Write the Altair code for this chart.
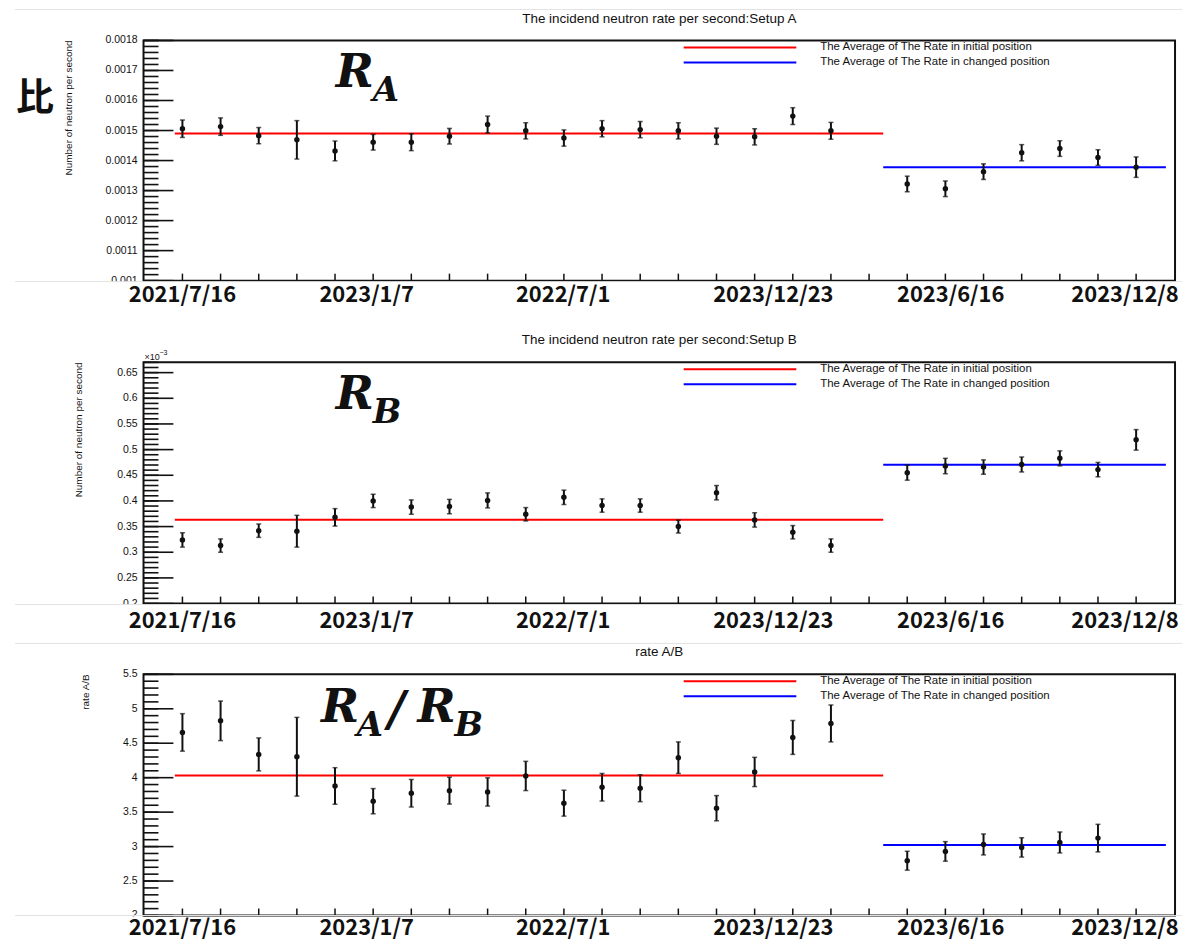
import altair as alt
import numpy as np
import pandas as pd

# ---------------- values ----------------
IDX_INIT = list(range(18))
IDX_CHG = [19, 20, 21, 22, 23, 24, 25]
IDX_CHG_RATIO = [19, 20, 21, 22, 23, 24]

RATE_A_INIT = [0.001506, 0.001513, 0.001483, 0.001469, 0.001432, 0.001461,
               0.001461, 0.001481, 0.001520, 0.001499, 0.001475, 0.001506,
               0.001503, 0.001499, 0.001481, 0.001479, 0.001548, 0.001499]
ERR_A_INIT = [0.000029, 0.000029, 0.000027, 0.000064, 0.000033, 0.000026,
              0.000028, 0.000026, 0.000028, 0.000027, 0.000027, 0.000027,
              0.000027, 0.000027, 0.000027, 0.000027, 0.000028, 0.000028]
RATE_A_CHG = [0.001322, 0.001306, 0.001363, 0.001426, 0.001440, 0.001410, 0.001378]
ERR_A_CHG = [0.000026, 0.000026, 0.000026, 0.000027, 0.000026, 0.000026, 0.000034]
AVG_A = [0.001490, 0.001378]

RATE_B_INIT = [0.324, 0.313, 0.342, 0.341, 0.368, 0.400, 0.388, 0.389, 0.401,
               0.374, 0.407, 0.391, 0.391, 0.350, 0.416, 0.363, 0.339, 0.313]
ERR_B_INIT = [0.014, 0.013, 0.013, 0.031, 0.017, 0.013, 0.014, 0.014, 0.0146,
              0.013, 0.014, 0.013, 0.013, 0.0126, 0.014, 0.014, 0.013, 0.013]
RATE_B_CHG = [0.455, 0.468, 0.466, 0.471, 0.483, 0.461, 0.519]
ERR_B_CHG = [0.0146, 0.015, 0.014, 0.0146, 0.0146, 0.014, 0.020]
AVG_B = [0.3633, 0.4707]

RATIO_INIT = [4.657, 4.825, 4.338, 4.304, 3.880, 3.659, 3.774, 3.812, 3.793,
              4.025, 3.630, 3.861, 3.847, 4.290, 3.557, 4.083, 4.584, 4.787]
ERR_RATIO_INIT = [0.272, 0.287, 0.239, 0.571, 0.265, 0.183, 0.200, 0.195, 0.205,
                  0.212, 0.188, 0.200, 0.195, 0.229, 0.183, 0.212, 0.246, 0.268]
RATIO_CHG = [2.795, 2.930, 3.031, 2.988, 3.060, 3.123]
ERR_RATIO_CHG = [0.137, 0.142, 0.152, 0.140, 0.152, 0.200]
AVG_RATIO = [4.030, 3.022]

AVG_SPAN_INIT = [-0.2, 18.37]
AVG_SPAN_CHG = [18.37, 25.78]

DATE_LABELS = ["2021/7/16", "2023/1/7", "2022/7/1", "2023/12/23", "2023/6/16", "2023/12/8"]
DATE_POS = [0.0, 4.83, 9.98, 15.49, 20.14, 24.71]
X_TICKS = list(range(26))
X_DOMAIN = [-1.02, 26.02]

Y_TICKS_A = [0.001, 0.0011, 0.0012, 0.0013, 0.0014, 0.0015, 0.0016, 0.0017, 0.0018]
Y_LABELS_A = ["0.001", "0.0011", "0.0012", "0.0013", "0.0014", "0.0015", "0.0016", "0.0017", "0.0018"]
Y_TICKS_B = [0.2, 0.25, 0.3, 0.35, 0.4, 0.45, 0.5, 0.55, 0.6, 0.65]
Y_LABELS_B = ["0.2", "0.25", "0.3", "0.35", "0.4", "0.45", "0.5", "0.55", "0.6", "0.65"]
Y_TICKS_R = [2, 2.5, 3, 3.5, 4, 4.5, 5, 5.5]
Y_LABELS_R = ["2", "2.5", "3", "3.5", "4", "4.5", "5", "5.5"]

TITLES = ["The incidend neutron rate per second:Setup A",
          "The incidend neutron rate per second:Setup B",
          "rate A/B"]
Y_TITLES = ["Number of neutron per second", "Number of neutron per second", "rate A/B"]
LEG_INIT = "The Average of The Rate in initial position"
LEG_CHG = "The Average of The Rate in changed position"

W = 1035
SANS = "Liberation Sans"
CJK = "Noto Sans CJK JP"
SERIF = "DejaVu Serif"
INK = "#111111"
GRAY = "#e2e2e2"

one = pd.DataFrame({"k": [0]})


def xq(field):
    return alt.X(field, type="quantitative",
                 scale=alt.Scale(domain=X_DOMAIN, nice=False, zero=False), axis=None)


def yq(field, dom):
    return alt.Y(field, type="quantitative",
                 scale=alt.Scale(domain=dom, nice=False, zero=False), axis=None)


def text_at(txt, x, y, size, font=SANS, weight="normal", style="normal",
            align="left", baseline="alphabetic", color=INK, angle=0):
    return alt.Chart(one).mark_text(
        text=txt, font=font, fontSize=size, fontWeight=weight, fontStyle=style,
        align=align, baseline=baseline, color=color, angle=angle
    ).encode(x=alt.value(x), y=alt.value(y))


def hline(x0, x1, y, color, width=1.0):
    return alt.Chart(one).mark_rule(color=color, strokeWidth=width).encode(
        x=alt.value(x0), x2=alt.value(x1), y=alt.value(y))


def panel(h, title, ytitle, title_x, dom, majors, labels, minors,
          idx_i, v_i, e_i, idx_c, v_c, e_c, avg, big, date_base,
          top_gray, bottom_gray, spacer_top, spacer_bottom, extra=()):
    pts = pd.DataFrame({"idx": idx_i + idx_c, "val": v_i + v_c, "err": e_i + e_c})
    pts["lo"] = pts["val"] - pts["err"]
    pts["hi"] = pts["val"] + pts["err"]
    avg_df = pd.DataFrame({"x0": [AVG_SPAN_INIT[0], AVG_SPAN_CHG[0]],
                           "x1": [AVG_SPAN_INIT[1], AVG_SPAN_CHG[1]],
                           "avg": avg, "col": ["#ff0000", "#0000ff"]})
    maj_df = pd.DataFrame({"t": majors, "lab": labels})
    min_df = pd.DataFrame({"t": minors})
    xt_df = pd.DataFrame({"i": X_TICKS})
    dates = pd.DataFrame({"pos": DATE_POS, "lab": DATE_LABELS})

    layers = []
    # spacers that fix the panel's outer bounds
    layers.append(hline(-129, 1042, spacer_top, "#ffffff"))
    layers.append(hline(-129, 1042, spacer_bottom, "#ffffff"))
    # y tick labels and y title
    layers.append(alt.Chart(maj_df).mark_text(font=SANS, fontSize=10.5, color=INK,
                                              align="right", baseline="middle").encode(
        y=yq("t", dom), x=alt.value(-6), text="lab:N"))
    layers.append(text_at(ytitle, title_x, 0, 10, align="right", baseline="bottom", angle=270))
    # inward y ticks
    layers.append(alt.Chart(min_df).mark_rule(color=INK, strokeWidth=1.6).encode(
        y=yq("t", dom), x=alt.value(0), x2=alt.value(15)))
    layers.append(alt.Chart(maj_df).mark_rule(color=INK, strokeWidth=1.6).encode(
        y=yq("t", dom), x=alt.value(0), x2=alt.value(30)))
    # x ticks
    layers.append(alt.Chart(xt_df).mark_rule(color=INK, strokeWidth=1.5).encode(
        x=xq("i"), y=alt.value(h), y2=alt.value(h - 7)))
    # average lines
    layers.append(alt.Chart(avg_df).mark_rule(strokeWidth=2).encode(
        x=xq("x0"), x2="x1", y=yq("avg", dom), color=alt.Color("col:N", scale=None)))
    # error bars and caps
    layers.append(alt.Chart(pts).mark_rule(color=INK, strokeWidth=2).encode(
        x=xq("idx"), y=yq("lo", dom), y2="hi"))
    for f in ("lo", "hi"):
        layers.append(alt.Chart(pts).mark_tick(orient="horizontal", size=5, thickness=1.5,
                                                color=INK).encode(x=xq("idx"), y=yq(f, dom)))
    # points
    layers.append(alt.Chart(pts).mark_circle(size=30, color=INK, opacity=1).encode(
        x=xq("idx"), y=yq("val", dom)))
    # legend
    layers.append(hline(542, 655, 7, "#ff0000", 2))
    layers.append(hline(542, 655, 22, "#0000ff", 2))
    layers.append(text_at(LEG_INIT, 679, 7, 11.5, baseline="middle"))
    layers.append(text_at(LEG_CHG, 679, 22, 11.5, baseline="middle"))
    # title
    layers.append(text_at(title, W / 2, -18, 13.5, align="center"))
    # big labels
    for txt, bx, by, bs in big:
        layers.append(text_at(txt, bx, by, bs, font=SERIF, weight="bold", style="italic"))
    for e in extra:
        layers.append(e)
    # cut-off edge of the screenshot
    layers.append(alt.Chart(one).mark_rect(color="#ffffff").encode(
        x=alt.value(-129), x2=alt.value(-2), y=alt.value(h + 1), y2=alt.value(h + 14)))
    if top_gray is not None:
        layers.append(hline(-129, 1042, top_gray, GRAY))
    if bottom_gray is not None:
        layers.append(hline(-129, 1042, bottom_gray, GRAY))
    # date labels
    layers.append(alt.Chart(dates).mark_text(font=CJK, fontSize=22, fontWeight="bold",
                                             color=INK, baseline="alphabetic").encode(
        x=xq("pos"), y=alt.value(h + date_base), text="lab:N"))
    return alt.layer(*layers).properties(width=W, height=h)


def r2(a, b, s):
    return [float(round(v, 6)) for v in np.arange(a, b + s / 2, s)]


big_A = [("R", 193, 47, 46), ("A", 230, 61, 34)]
big_B = [("R", 193, 47, 46), ("B", 230, 61, 34)]
big_R = [("R", 178, 48, 46), ("A", 214, 62, 34), ("/", 245, 52, 48),
         ("R", 275, 48, 46), ("B", 312, 62, 34)]

p1 = panel(241, TITLES[0], Y_TITLES[0], -70, [0.001, 0.0018],
           Y_TICKS_A, Y_LABELS_A, r2(0.001, 0.0018, 0.00002),
           IDX_INIT, RATE_A_INIT, ERR_A_INIT, IDX_CHG, RATE_A_CHG, ERR_A_CHG, AVG_A,
           big_A, 21, -31, 242, -37.5, 265.5,
           extra=[text_at("比", -128, 59, 38, font=CJK, weight="bold", baseline="middle")])

p2 = panel(242, TITLES[1], Y_TITLES[1], -60, [0.2, 0.67],
           Y_TICKS_B, Y_LABELS_B, r2(0.2, 0.67, 0.01),
           IDX_INIT, RATE_B_INIT, ERR_B_INIT, IDX_CHG, RATE_B_CHG, ERR_B_CHG, AVG_B,
           big_B, 25, None, 243, -54.5, 278.5,
           extra=[text_at("×10", 1, -2, 9), text_at("−3", 16, -7, 7)])

p3 = panel(242, TITLES[2], Y_TITLES[2], -53, [2, 5.5],
           Y_TICKS_R, Y_LABELS_R, r2(2, 5.5, 0.1),
           IDX_INIT, RATIO_INIT, ERR_RATIO_INIT, IDX_CHG_RATIO, RATIO_CHG, ERR_RATIO_CHG,
           AVG_RATIO, big_R, 20, -31, 242, -31.5, 260)

chart = alt.vconcat(p1, p2, p3, spacing=0).properties(
    padding={"left": 13, "top": 0, "right": 0, "bottom": 0},
    background="#ffffff",
).configure_view(stroke=INK, strokeWidth=2)

chart.save("out.html", embed_options={"renderer": "svg", "actions": False})
